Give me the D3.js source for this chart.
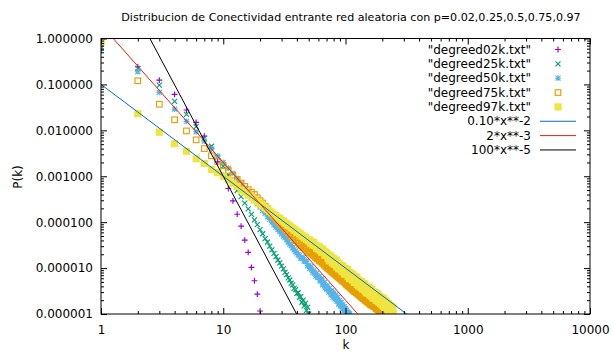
<!DOCTYPE html>
<html>
<head>
<meta charset="utf-8">
<script src="https://cdn.jsdelivr.net/npm/d3@7"></script>
<style>
  body { margin: 0; background: #fff; }
  text { font-family: "DejaVu Sans", sans-serif; fill: #000; }
</style>
</head>
<body>
<svg id="chart" width="613" height="354"></svg>
<script>
// ---- data -------------------------------------------------------------
const chartTitle = "Distribucion de Conectividad entrante red aleatoria con p=0.02,0.25,0.5,0.75,0.97";
const xLabel = "k";
const yLabel = "P(k)";
const xTickValues = [1, 10, 100, 1000, 10000];
const yTickValues = [1e-6, 1e-5, 1e-4, 1e-3, 1e-2, 1e-1, 1];

const seriesNames = ['"degreed02k.txt"', '"degreed25k.txt"', '"degreed50k.txt"', '"degreed75k.txt"', '"degreed97k.txt"'];

// P(k) for k = 1, 2, 3, ... in each file
const pk02 = [0.55,0.243,0.124,0.0607,0.0277,0.0149,0.0075,0.0041,0.00205,0.00105,
  5.4e-4,2.9e-4,1.49e-4,8.2e-5,4.06e-5,2.2e-5,1.04e-5,5.3e-6,2.7e-6,1.16e-6];

const pk25 = [0.6,0.223,0.0966,0.0427,0.0223,0.012,0.0067,0.0045,2.6e-3,1.65e-3,
  1.05e-3,7.3e-4,4.9e-4,3.6e-4,2.6e-4,1.95e-4,1.48e-4,1.12e-4,8.8e-5,6.9e-5,
  5.6e-5,4.4e-5,3.7e-5,3.0e-5,2.5e-5,2.1e-5,1.78e-5,1.5e-5,1.3e-5,1.1e-5,
  9.6e-6,8.1e-6,7.2e-6,6.1e-6,5.5e-6,4.7e-6,4.3e-6,3.6e-6,3.4e-6,2.8e-6,
  2.9e-6,2.3e-6,2.4e-6,1.8e-6,2.0e-6,1.5e-6,1.7e-6,1.2e-6,1.4e-6,1.0e-6];

const pk50 = [0.67,0.189,0.067,0.029,0.0157,9.3e-3,5.8e-3,3.9e-3,2.75e-3,2.0e-3,
  1.51e-3,1.16e-3,8.8e-4,6.9e-4,5.5e-4,4.45e-4,3.64e-4,3.0e-4,2.5e-4,2.12e-4,
  1.79e-4,1.55e-4,1.31e-4,1.15e-4,1.0e-4,8.7e-5,7.8e-5,6.9e-5,6.2e-5,5.6e-5,
  5.0e-5,4.6e-5,4.1e-5,3.7e-5,3.3e-5,3.1e-5,2.75e-5,2.5e-5,2.3e-5,2.15e-5,
  1.95e-5,1.9e-5,1.65e-5,1.65e-5,1.7e-5,1.42e-5,1.4e-5,1.39e-5,1.13e-5,1.13e-5,
  9.7e-6,1.07e-5,9.4e-6,8.0e-6,8.8e-6,7.8e-6,6.7e-6,7.7e-6,6.4e-6,6.2e-6,
  6.6e-6,5.2e-6,5.4e-6,5.8e-6,4.3e-6,4.7e-6,4.9e-6,3.7e-6,4.1e-6,3.5e-6,
  4.1e-6,3.4e-6,3.0e-6,3.6e-6,3.1e-6,2.6e-6,3.2e-6,2.8e-6,2.3e-6,2.8e-6,
  2.4e-6,2.1e-6,2.6e-6,2.2e-6,1.9e-6,2.3e-6,1.9e-6,1.65e-6,1.95e-6,1.7e-6,
  1.5e-6,1.8e-6,1.5e-6,1.3e-6,1.6e-6,1.35e-6,1.2e-6,1.45e-6,1.2e-6,1.3e-6,
  1.1e-6,1.2e-6,1.05e-6,1.1e-6,1.0e-6,1.05e-6,1.0e-6,1.0e-6];

const pk75 = [0.82,0.12,0.037,0.017,0.0097,0.0062,0.0040,0.0028,0.0021,0.0017,
  1.33e-3,1.05e-3,8.6e-4,7.1e-4,6.0e-4,5.1e-4,4.5e-4,4.0e-4,3.4e-4,2.95e-4,
  2.6e-4,2.2e-4,1.95e-4,1.72e-4,1.48e-4,1.35e-4,1.18e-4,1.1e-4,9.5e-5,8.8e-5,
  7.9e-5,7.5e-5,6.6e-5,6.3e-5,5.6e-5,5.3e-5,4.8e-5,4.6e-5,4.1e-5,4.0e-5,
  3.55e-5,3.45e-5,3.1e-5,3.15e-5,2.85e-5,2.85e-5,2.6e-5,2.65e-5,2.35e-5,2.35e-5,
  2.15e-5,2.25e-5,2.0e-5,2.05e-5,1.85e-5,1.9e-5,1.7e-5,1.75e-5,1.58e-5,1.65e-5,
  1.45e-5,1.52e-5,1.36e-5,1.42e-5,1.27e-5,1.32e-5,1.16e-5,1.24e-5,1.08e-5,1.15e-5,
  1.0e-5,1.08e-5,9.5e-6,1.02e-5,9.0e-6,9.7e-6,8.4e-6,9.1e-6,7.9e-6,8.7e-6,
  7.5e-6,8.1e-6,7.1e-6,7.7e-6,6.7e-6,7.3e-6,6.4e-6,7.0e-6,6.1e-6,6.7e-6,
  5.8e-6,6.4e-6,5.5e-6,6.1e-6,5.2e-6,5.9e-6,5.1e-6,5.6e-6,4.8e-6,5.3e-6,
  4.5e-6,5.2e-6,4.3e-6,5.0e-6,4.1e-6,4.8e-6,4.0e-6,4.6e-6,3.8e-6,4.5e-6,
  3.6e-6,4.3e-6,3.5e-6,4.2e-6,3.3e-6,4.0e-6,3.2e-6,3.9e-6,3.1e-6,3.7e-6,
  3.0e-6,3.6e-6,2.9e-6,3.5e-6,2.8e-6,3.4e-6,2.7e-6,3.2e-6,2.6e-6,3.1e-6,
  2.5e-6,3.0e-6,2.45e-6,2.9e-6,2.35e-6,2.85e-6,2.3e-6,2.75e-6,2.2e-6,2.7e-6,
  2.15e-6,2.6e-6,2.1e-6,2.5e-6,2.0e-6,2.45e-6,1.95e-6,2.4e-6,1.9e-6,2.3e-6,
  2.1e-6,1.8e-6,2.2e-6,1.9e-6,1.75e-6,2.1e-6,1.8e-6,1.65e-6,2.0e-6,1.85e-6,
  1.6e-6,1.95e-6,1.7e-6,1.55e-6,1.85e-6,1.6e-6,1.75e-6,1.5e-6,1.8e-6,1.6e-6,
  1.45e-6,1.7e-6,1.5e-6,1.65e-6,1.4e-6,1.6e-6,1.45e-6,1.3e-6,1.55e-6,1.45e-6,
  1.3e-6,1.5e-6,1.35e-6,1.25e-6,1.45e-6,1.3e-6,1.4e-6,1.2e-6,1.35e-6,1.25e-6,
  1.15e-6,1.35e-6,1.2e-6,1.3e-6,1.1e-6,1.25e-6,1.15e-6,1.05e-6,1.2e-6,1.1e-6,
  1.15e-6,1.0e-6,1.1e-6,1.05e-6,1.0e-6,1.1e-6,1.0e-6,1.05e-6,1.0e-6,1.0e-6];

const pk97 = [0.88,0.023,0.0091,0.0051,0.0035,0.0024,0.0019,0.0014,1.2e-3,1.0e-3,
  8.4e-4,6.9e-4,6.0e-4,5.0e-4,4.5e-4,3.9e-4,3.5e-4,3.05e-4,2.8e-4,2.5e-4,
  2.3e-4,2.05e-4,1.9e-4,1.72e-4,1.6e-4,1.46e-4,1.38e-4,1.26e-4,1.2e-4,1.1e-4,
  1.05e-4,9.6e-5,9.3e-5,8.5e-5,8.3e-5,7.6e-5,7.4e-5,6.8e-5,6.7e-5,6.1e-5,
  6.0e-5,5.6e-5,5.5e-5,5.0e-5,5.0e-5,4.6e-5,4.6e-5,4.2e-5,4.2e-5,3.9e-5,
  4.1e-5,3.5e-5,3.7e-5,3.2e-5,3.6e-5,3.1e-5,3.1e-5,2.7e-5,3.0e-5,2.6e-5,
  2.9e-5,2.4e-5,2.5e-5,2.2e-5,2.6e-5,2.2e-5,2.3e-5,1.9e-5,2.2e-5,1.9e-5,
  2.05e-5,1.6e-5,1.83e-5,1.44e-5,1.9e-5,1.51e-5,1.68e-5,1.3e-5,1.49e-5,1.62e-5,
  1.22e-5,1.39e-5,1.2e-5,1.5e-5,1.06e-5,1.28e-5,1.14e-5,9.7e-6,1.24e-5,1.02e-5,
  1.16e-5,9.2e-6,1.06e-5,8.4e-6,1.12e-5,8.9e-6,9.8e-6,7.5e-6,8.7e-6,9.8e-6,
  7.3e-6,8.4e-6,7.3e-6,9.3e-6,6.5e-6,7.9e-6,7.1e-6,5.9e-6,7.9e-6,6.4e-6,
  7.5e-6,6.0e-6,6.8e-6,5.5e-6,7.3e-6,5.8e-6,6.5e-6,4.9e-6,5.8e-6,6.5e-6,
  4.9e-6,5.6e-6,4.9e-6,6.3e-6,4.4e-6,5.4e-6,4.8e-6,4.1e-6,5.4e-6,4.5e-6,
  5.1e-6,4.1e-6,4.7e-6,3.8e-6,5.1e-6,4.1e-6,4.5e-6,3.5e-6,4.1e-6,4.6e-6,
  3.5e-6,4.0e-6,3.5e-6,4.5e-6,3.2e-6,3.9e-6,3.5e-6,2.9e-6,3.9e-6,3.2e-6,
  3.8e-6,3.0e-6,3.5e-6,2.8e-6,3.8e-6,3.0e-6,3.4e-6,2.6e-6,3.0e-6,3.5e-6,
  2.6e-6,3.0e-6,2.6e-6,3.4e-6,2.4e-6,2.9e-6,2.6e-6,2.2e-6,3.0e-6,2.5e-6,
  2.9e-6,2.3e-6,2.7e-6,2.2e-6,2.9e-6,2.3e-6,2.6e-6,2.0e-6,2.4e-6,2.7e-6,
  2.0e-6,2.3e-6,2.1e-6,2.7e-6,1.9e-6,2.3e-6,2.1e-6,1.8e-6,2.4e-6,1.9e-6,
  2.3e-6,1.8e-6,2.1e-6,1.7e-6,2.3e-6,1.9e-6,2.1e-6,1.6e-6,1.9e-6,2.2e-6,
  1.6e-6,1.9e-6,1.7e-6,2.2e-6,1.5e-6,1.9e-6,1.7e-6,1.4e-6,1.9e-6,1.6e-6,
  1.9e-6,1.5e-6,1.7e-6,1.4e-6,1.9e-6,1.5e-6,1.7e-6,1.3e-6,1.5e-6,1.7e-6,
  1.3e-6,1.5e-6,1.3e-6,1.7e-6,1.2e-6,1.5e-6,1.3e-6,1.1e-6,1.5e-6,1.3e-6,
  1.5e-6,1.2e-6,1.4e-6,1.1e-6,1.5e-6,1.2e-6,1.4e-6,1.0e-6,1.2e-6,1.4e-6,
  1.1e-6,1.2e-6,1.1e-6,1.4e-6,1.0e-6];

// reference power laws  c * k^e
const fitLabels = ["0.10*x**-2", "2*x**-3", "100*x**-5"];
const fitCoef = [0.10, 2, 100];
const fitExp = [-2, -3, -5];

// ---- styling ----------------------------------------------------------
const seriesColors = ["#9400d3", "#009e73", "#56b4e9", "#e69f00", "#f0e442"];
const seriesShapes = ["plus", "cross", "star", "box", "boxfill"];
const fitColors = ["#0072b2", "#e51e10", "#000000"];

const W = 613, H = 354;
const plot = { left: 101, right: 590, top: 38.5, bottom: 314 };

const x = d3.scaleLog().domain([1, 10000]).range([plot.left, plot.right]);
const y = d3.scaleLog().domain([1e-6, 1]).range([plot.bottom, plot.top]);

const svg = d3.select("#chart");

svg.append("defs").append("clipPath").attr("id", "plotArea")
  .append("rect")
  .attr("x", plot.left).attr("y", plot.top)
  .attr("width", plot.right - plot.left).attr("height", plot.bottom - plot.top);

// ---- point symbols ----------------------------------------------------
function drawSymbol(g, shape, color) {
  const r = 2.9, c = 2.5, s = 3.3, f = 3.6;
  const sw = 1.15;
  if (shape === "plus") {
    g.append("path").attr("d", `M${-r},0H${r}M0,${-r}V${r}`)
      .attr("stroke", color).attr("fill", "none").attr("stroke-width", sw);
  } else if (shape === "cross") {
    g.append("path").attr("d", `M${-c},${-c}L${c},${c}M${-c},${c}L${c},${-c}`)
      .attr("stroke", color).attr("fill", "none").attr("stroke-width", sw);
  } else if (shape === "star") {
    g.append("path").attr("d", `M${-r},0H${r}M0,${-r}V${r}M${-c},${-c}L${c},${c}M${-c},${c}L${c},${-c}`)
      .attr("stroke", color).attr("fill", "none").attr("stroke-width", sw);
  } else if (shape === "box") {
    g.append("rect").attr("x", -s + 0.5).attr("y", -s + 0.5)
      .attr("width", 2 * s - 1).attr("height", 2 * s - 1)
      .attr("stroke", color).attr("fill", "none").attr("stroke-width", sw);
  } else {
    g.append("rect").attr("x", -f).attr("y", -f)
      .attr("width", 2 * f).attr("height", 2 * f)
      .attr("fill", color);
  }
}

// ---- data points ------------------------------------------------------
const allSeries = [pk02, pk25, pk50, pk75, pk97];
const pointsLayer = svg.append("g").attr("clip-path", "url(#plotArea)");

allSeries.forEach((vals, si) => {
  const pts = vals.map((p, i) => ({ k: i + 1, p }));
  const g = pointsLayer.append("g");
  g.selectAll("g.pt").data(pts).join("g")
    .attr("class", "pt")
    .attr("transform", d => `translate(${x(d.k)},${y(d.p)})`)
    .each(function () { drawSymbol(d3.select(this), seriesShapes[si], seriesColors[si]); });
});

// ---- power-law guide lines -------------------------------------------
const linesLayer = svg.append("g").attr("clip-path", "url(#plotArea)");
const line = d3.line().x(d => x(d.k)).y(d => y(d.p));
fitCoef.forEach((c, i) => {
  const ends = x.domain().map(k => ({ k, p: c * Math.pow(k, fitExp[i]) }));
  linesLayer.append("path")
    .attr("d", line(ends))
    .attr("fill", "none")
    .attr("stroke", fitColors[i])
    .attr("stroke-width", 1);
});

// ---- axes, ticks and border -------------------------------------------
const isMajor = v => Math.abs(Math.log10(v) - Math.round(Math.log10(v))) < 1e-9;
const xMinor = x.ticks().filter(v => !isMajor(v));
const yMinor = y.ticks().filter(v => !isMajor(v));

function styleAxis(g) {
  g.select(".domain").remove();
  g.selectAll(".tick line").attr("stroke", "#000");
  g.selectAll("text").attr("font-size", 12).attr("fill", "#000")
    .attr("font-family", "DejaVu Sans, sans-serif");
}

// bottom
svg.append("g").attr("transform", `translate(0,${plot.bottom})`)
  .call(d3.axisBottom(x).tickValues(xTickValues).tickSize(-6).tickPadding(11)
    .tickFormat(d3.format("d")))
  .call(styleAxis);
svg.append("g").attr("transform", `translate(0,${plot.bottom})`)
  .call(d3.axisBottom(x).tickValues(xMinor).tickSize(-3).tickFormat(""))
  .call(styleAxis);
// top (mirror)
svg.append("g").attr("transform", `translate(0,${plot.top})`)
  .call(d3.axisTop(x).tickValues(xTickValues).tickSize(-6).tickFormat(""))
  .call(styleAxis);
svg.append("g").attr("transform", `translate(0,${plot.top})`)
  .call(d3.axisTop(x).tickValues(xMinor).tickSize(-3).tickFormat(""))
  .call(styleAxis);
// left
svg.append("g").attr("transform", `translate(${plot.left},0)`)
  .call(d3.axisLeft(y).tickValues(yTickValues).tickSize(-6).tickPadding(8)
    .tickFormat(d3.format(".6f")))
  .call(styleAxis);
svg.append("g").attr("transform", `translate(${plot.left},0)`)
  .call(d3.axisLeft(y).tickValues(yMinor).tickSize(-3).tickFormat(""))
  .call(styleAxis);
// right (mirror)
svg.append("g").attr("transform", `translate(${plot.right},0)`)
  .call(d3.axisRight(y).tickValues(yTickValues).tickSize(-6).tickFormat(""))
  .call(styleAxis);
svg.append("g").attr("transform", `translate(${plot.right},0)`)
  .call(d3.axisRight(y).tickValues(yMinor).tickSize(-3).tickFormat(""))
  .call(styleAxis);

svg.append("rect")
  .attr("x", plot.left).attr("y", plot.top)
  .attr("width", plot.right - plot.left).attr("height", plot.bottom - plot.top)
  .attr("fill", "none").attr("stroke", "#000").attr("stroke-width", 1);

// ---- titles -----------------------------------------------------------
svg.append("text")
  .attr("x", 351).attr("y", 17).attr("dy", "0.35em")
  .attr("text-anchor", "middle").attr("font-size", 11.1)
  .text(chartTitle);

svg.append("text")
  .attr("x", 346).attr("y", 345).attr("dy", "0.35em")
  .attr("text-anchor", "middle").attr("font-size", 12)
  .text(xLabel);

svg.append("text")
  .attr("transform", "translate(18,177) rotate(-90)")
  .attr("dy", "0.35em")
  .attr("text-anchor", "middle").attr("font-size", 12)
  .text(yLabel);

// ---- key --------------------------------------------------------------
const keyTextX = 531, keySymX = 558, keyLine = [540, 576];
const keyRow = i => 49.5 + 14.35 * i;
const key = svg.append("g");

seriesNames.forEach((name, i) => {
  key.append("text")
    .attr("x", keyTextX).attr("y", keyRow(i)).attr("dy", "0.35em")
    .attr("text-anchor", "end").attr("font-size", 12)
    .text(name);
  const g = key.append("g").attr("transform", `translate(${keySymX},${keyRow(i)})`);
  drawSymbol(g, seriesShapes[i], seriesColors[i]);
});

fitLabels.forEach((lab, j) => {
  const i = seriesNames.length + j;
  key.append("text")
    .attr("x", keyTextX).attr("y", keyRow(i)).attr("dy", "0.35em")
    .attr("text-anchor", "end").attr("font-size", 12)
    .text(lab);
  key.append("line")
    .attr("x1", keyLine[0]).attr("x2", keyLine[1])
    .attr("y1", keyRow(i)).attr("y2", keyRow(i))
    .attr("stroke", fitColors[j]).attr("stroke-width", 1);
});
</script>
</body>
</html>
